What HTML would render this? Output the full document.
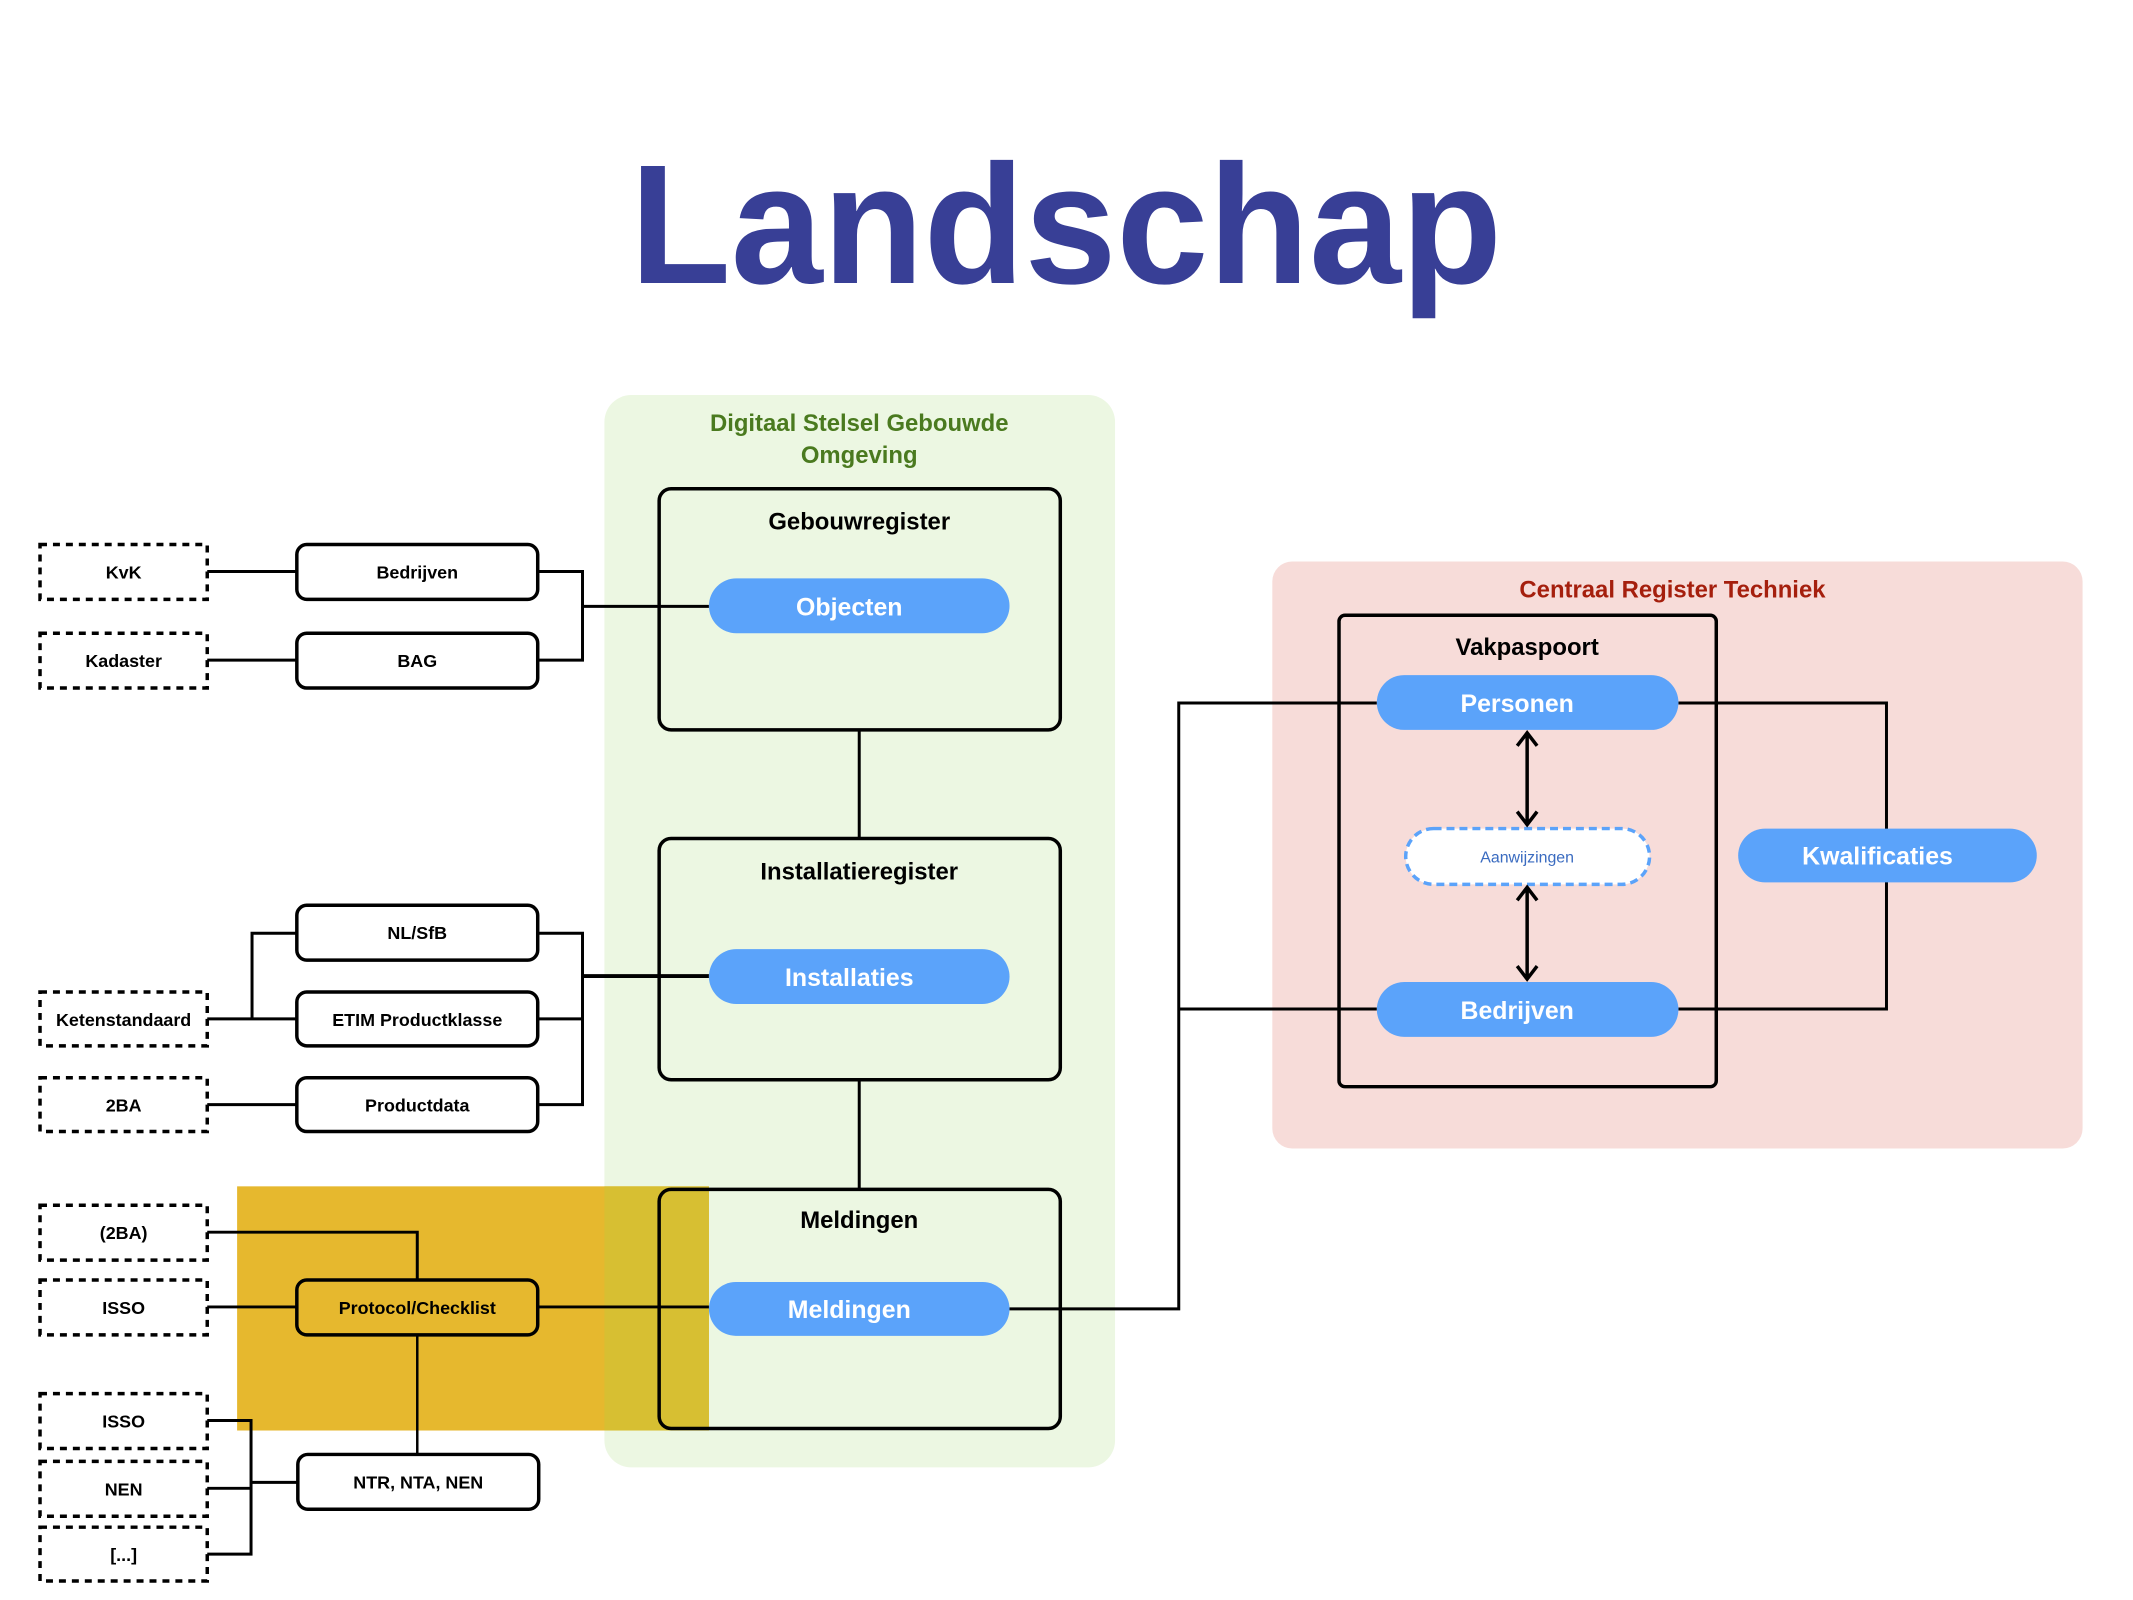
<!DOCTYPE html>
<html><head><meta charset="utf-8"><style>
html,body{margin:0;padding:0;background:#fff}
svg{display:block}
text{font-family:"Liberation Sans",Arial,sans-serif}
</style></head><body>
<svg width="2133" height="1600" viewBox="0 0 2133 1600" xmlns="http://www.w3.org/2000/svg">
<text x="630" y="283" font-size="170" font-weight="bold" fill="#383f96" textLength="872" lengthAdjust="spacingAndGlyphs">Landschap</text>
<g transform="translate(0.2 -1.6) scale(0.9954 0.9966)">
<!-- green panel -->
<rect x="607" y="398" width="513" height="1076" rx="27" fill="#ecf7e2"/>
<text x="863" y="434" font-size="24" font-weight="bold" fill="#4a7a1f" text-anchor="middle">Digitaal Stelsel Gebouwde</text>
<text x="863" y="466" font-size="24" font-weight="bold" fill="#4a7a1f" text-anchor="middle">Omgeving</text>

<!-- yellow area -->
<rect x="238" y="1192" width="474" height="245" fill="#e6b82e"/>
<rect x="607" y="1192" width="105" height="245" fill="#d7bf32"/>

<!-- pink panel -->
<rect x="1278" y="565" width="814" height="589" rx="20" fill="#f7dcd9"/>
<text x="1680" y="601" font-size="24" font-weight="bold" fill="#a51f0d" text-anchor="middle">Centraal Register Techniek</text>

<g fill="none" stroke="#000" stroke-width="3">
<path d="M208 575H298M208 664H298M540 575H585V664H540M585 610H712"/>
<path d="M208 1024H298M253 1024V938H298M208 1110H298M540 938H585V1110H540M540 1024H585"/>
<path d="M585 981H712" stroke-width="4"/>
<path d="M208 1238H419V1286M208 1313H298M540 1313H712"/>
<path d="M419 1341V1461" stroke-width="2.5"/>
<path d="M208 1427H252V1561H208M208 1495H252M252 1489H299"/>
<path d="M863 734V843M863 1085V1195"/>
<path d="M1014 1315H1184V707H1383M1184 1014H1383"/>
<path d="M1686 707H1895V1014H1686"/>
</g>

<g fill="none" stroke="#000" stroke-width="3.5" stroke-dasharray="7 6">
<rect x="40" y="548" width="168" height="55"/>
<rect x="40" y="637" width="168" height="55"/>
<rect x="40" y="997" width="168" height="54"/>
<rect x="40" y="1083" width="168" height="54"/>
<rect x="40" y="1211" width="168" height="55"/>
<rect x="40" y="1286" width="168" height="55"/>
<rect x="40" y="1400" width="168" height="55"/>
<rect x="40" y="1468" width="168" height="55"/>
<rect x="40" y="1534" width="168" height="54"/>
</g>
<g font-size="18" font-weight="bold" text-anchor="middle" fill="#000">
<text x="124" y="582">KvK</text>
<text x="124" y="671">Kadaster</text>
<text x="124" y="1031">Ketenstandaard</text>
<text x="124" y="1117">2BA</text>
<text x="124" y="1245">(2BA)</text>
<text x="124" y="1320">ISSO</text>
<text x="124" y="1434">ISSO</text>
<text x="124" y="1502">NEN</text>
<text x="124" y="1568">[...]</text>
</g>

<g fill="#fff" stroke="#000" stroke-width="3.5">
<rect x="298" y="548" width="242" height="55" rx="10"/>
<rect x="298" y="637" width="242" height="55" rx="10"/>
<rect x="298" y="910" width="242" height="55" rx="10"/>
<rect x="298" y="997" width="242" height="54" rx="10"/>
<rect x="298" y="1083" width="242" height="54" rx="10"/>
<rect x="298" y="1286" width="242" height="55" rx="10" fill="#e6b82e"/>
<rect x="299" y="1461" width="242" height="55" rx="10"/>
</g>
<g font-size="18" font-weight="bold" text-anchor="middle" fill="#000">
<text x="419" y="582">Bedrijven</text>
<text x="419" y="671">BAG</text>
<text x="419" y="944">NL/SfB</text>
<text x="419" y="1031">ETIM Productklasse</text>
<text x="419" y="1117">Productdata</text>
<text x="419" y="1320">Protocol/Checklist</text>
<text x="420" y="1495">NTR, NTA, NEN</text>
</g>

<g fill="none" stroke="#000" stroke-width="3.5">
<rect x="662" y="492" width="403" height="242" rx="12"/>
<rect x="662" y="843" width="403" height="242" rx="12"/>
<rect x="662" y="1195" width="403" height="240" rx="12"/>
<rect x="1345" y="619" width="379" height="473" rx="6"/>
</g>
<g font-size="24" text-anchor="middle" fill="#000" font-weight="bold">
<text x="863" y="533">Gebouwregister</text>
<text x="863" y="884">Installatieregister</text>
<text x="863" y="1234">Meldingen</text>
<text x="1534" y="659">Vakpaspoort</text>
</g>

<g fill="#5ba3fa">
<rect x="712" y="582" width="302" height="55" rx="27.5"/>
<rect x="712" y="954" width="302" height="55" rx="27.5"/>
<rect x="712" y="1288" width="302" height="54" rx="27"/>
<rect x="1383" y="679" width="303" height="55" rx="27.5"/>
<rect x="1383" y="987" width="303" height="55" rx="27.5"/>
<rect x="1746" y="833" width="300" height="54" rx="27"/>
</g>
<g font-size="25" font-weight="bold" text-anchor="middle" fill="#fff">
<text x="853" y="619">Objecten</text>
<text x="853" y="991">Installaties</text>
<text x="853" y="1324">Meldingen</text>
<text x="1524" y="716">Personen</text>
<text x="1524" y="1024">Bedrijven</text>
<text x="1886" y="869">Kwalificaties</text>
</g>

<rect x="1412" y="833" width="245" height="56" rx="28" fill="#fff" stroke="#5ba3fa" stroke-width="3.5" stroke-dasharray="8 5"/>
<text x="1534" y="867" font-size="16" text-anchor="middle" fill="#3a6bc0">Aanwijzingen</text>

<g fill="none" stroke="#000" stroke-width="3.5">
<path d="M1534 738V828M1524 750L1534 737L1544 750M1524 816L1534 829L1544 816"/>
<path d="M1534 893V983M1524 905L1534 892L1544 905M1524 971L1534 984L1544 971"/>
</g>
</g>
</svg>
</body></html>
